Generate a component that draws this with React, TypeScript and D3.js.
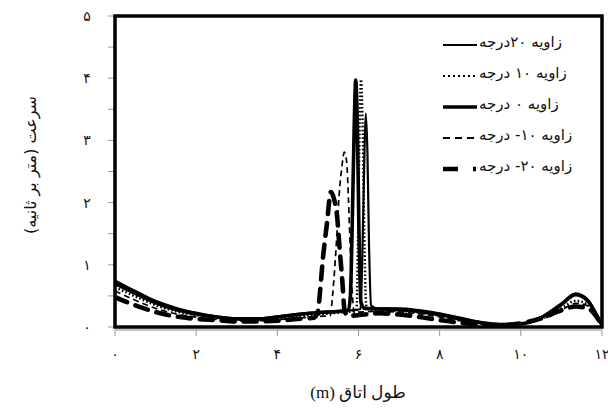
import React from "react";
import * as d3 from "d3";

// ---- data ----
const xTicks = [0, 2, 4, 6, 8, 10, 12];
const xTickLabels = ["۰", "۲", "۴", "۶", "۸", "۱۰", "۱۲"];
const yTicks = [0, 1, 2, 3, 4, 5];
const yTickLabels = ["۰", "۱", "۲", "۳", "۴", "۵"];

const seriesNames = ["زاویه ۲۰درجه", "زاویه ۱۰ درجه", "زاویه ۰ درجه", "زاویه ۱۰- درجه", "زاویه ۲۰- درجه"];

const deg20X = [0, 0.5, 1, 1.5, 2, 2.5, 3, 3.5, 4, 4.5, 5, 5.5, 5.9, 6.05, 6.1, 6.15, 6.18, 6.22, 6.26, 6.31, 6.4, 6.5, 7, 7.5, 8, 8.5, 9, 9.5, 10, 10.5, 11, 11.35, 11.65, 11.85, 12];
const deg20Y = [0.75, 0.58, 0.42, 0.31, 0.23, 0.17, 0.14, 0.14, 0.17, 0.21, 0.24, 0.26, 0.27, 0.29, 1.3, 2.9, 3.43, 2.8, 1.3, 0.35, 0.31, 0.3, 0.3, 0.27, 0.22, 0.15, 0.08, 0.04, 0.05, 0.16, 0.38, 0.54, 0.44, 0.22, 0.03];

const deg10X = [0, 0.5, 1, 1.5, 2, 2.5, 3, 3.5, 4, 4.5, 5, 5.5, 5.8, 5.95, 5.99, 6.03, 6.06, 6.1, 6.14, 6.19, 6.3, 6.5, 7, 7.5, 8, 8.5, 9, 9.5, 10, 10.5, 11, 11.35, 11.65, 11.85, 12];
const deg10Y = [0.64, 0.49, 0.35, 0.25, 0.19, 0.14, 0.12, 0.12, 0.14, 0.17, 0.2, 0.23, 0.25, 0.28, 1.5, 3.3, 3.98, 3.3, 1.6, 0.35, 0.28, 0.27, 0.26, 0.23, 0.18, 0.12, 0.06, 0.03, 0.05, 0.13, 0.3, 0.42, 0.36, 0.2, 0.03];

const deg0X = [0, 0.5, 1, 1.5, 2, 2.5, 3, 3.5, 4, 4.5, 5, 5.5, 5.75, 5.8, 5.85, 5.9, 5.93, 5.97, 6.01, 6.06, 6.15, 6.5, 7, 7.5, 8, 8.5, 9, 9.5, 10, 10.5, 11, 11.35, 11.65, 11.85, 12];
const deg0Y = [0.7, 0.54, 0.39, 0.28, 0.21, 0.16, 0.13, 0.13, 0.16, 0.2, 0.23, 0.25, 0.27, 0.5, 1.8, 3.4, 3.97, 3.3, 1.6, 0.4, 0.3, 0.29, 0.28, 0.25, 0.2, 0.13, 0.07, 0.04, 0.05, 0.15, 0.36, 0.52, 0.42, 0.21, 0.03];

const degM10X = [0, 0.5, 1, 1.5, 2, 2.5, 3, 3.5, 4, 4.5, 5, 5.3, 5.36, 5.45, 5.52, 5.59, 5.65, 5.71, 5.75, 5.8, 5.85, 5.9, 6.0, 6.5, 7, 7.5, 8, 8.5, 9, 9.5, 10, 10.5, 11, 11.35, 11.65, 11.85, 12];
const degM10Y = [0.58, 0.43, 0.3, 0.21, 0.16, 0.12, 0.1, 0.1, 0.12, 0.14, 0.17, 0.18, 0.5, 1.3, 2.1, 2.57, 2.81, 2.65, 2.1, 1.2, 0.5, 0.22, 0.24, 0.25, 0.24, 0.21, 0.16, 0.1, 0.06, 0.03, 0.05, 0.12, 0.27, 0.38, 0.34, 0.19, 0.03];

const degM20X = [0, 0.5, 1, 1.5, 2, 2.5, 3, 3.5, 4, 4.5, 4.9, 5.0, 5.05, 5.12, 5.22, 5.32, 5.4, 5.47, 5.53, 5.6, 5.66, 5.75, 6.5, 7, 7.5, 8, 8.5, 9, 9.5, 10, 10.5, 11, 11.35, 11.65, 11.85, 12];
const degM20Y = [0.48, 0.35, 0.24, 0.17, 0.13, 0.11, 0.09, 0.09, 0.1, 0.13, 0.15, 0.25, 0.55, 1.08, 1.65, 2.17, 2.05, 1.8, 1.3, 0.75, 0.25, 0.18, 0.22, 0.2, 0.16, 0.11, 0.07, 0.04, 0.03, 0.06, 0.14, 0.27, 0.33, 0.3, 0.18, 0.02];

const seriesX = [deg20X, deg10X, deg0X, degM10X, degM20X];
const seriesY = [deg20Y, deg10Y, deg0Y, degM10Y, degM20Y];

const styles = [
  { w: 2.2, dash: "none", cap: "butt" },
  { w: 2.4, dash: "1.6 2.2", cap: "butt" },
  { w: 3.6, dash: "none", cap: "butt" },
  { w: 1.7, dash: "6 4", cap: "butt" },
  { w: 4.6, dash: "13 9", cap: "round" },
];
const legendStyles = [
  { w: 2.2, dash: "none" },
  { w: 2.2, dash: "2 3" },
  { w: 3.6, dash: "none" },
  { w: 1.8, dash: "7 5" },
  { w: 4.6, dash: "15 15 3 20" },
];

const W = 608, H = 408;
const L = 115, R = 602, T = 16, B = 327;
const AR_FONT = "'Liberation Serif', 'DejaVu Sans', serif";
const FA = "'DejaVu Sans', sans-serif";

export default function App() {
  const x = d3.scaleLinear().domain([0, 12]).range([L, R]);
  const y = d3.scaleLinear().domain([0, 5]).range([B, T]);
  const line = d3
    .line<[number, number]>()
    .x((d) => x(d[0]))
    .y((d) => y(d[1]))
    .curve(d3.curveMonotoneX);

  const minorY = d3.range(0, 5.01, 0.5);
  const legendY = [45, 76, 107, 138, 169];

  return (
    <svg width={W} height={H} style={{ position: "absolute", left: 0, top: 0, background: "#fff" }}>
      <rect x={0} y={0} width={W} height={H} fill="#fff" />
      <defs>
        <clipPath id="plotclip">
          <rect x={L} y={T} width={R - L} height={B - T} />
        </clipPath>
      </defs>

      {/* y ticks */}
      {minorY.map((v) => (
        <line key={"yt" + v} x1={108} x2={L} y1={y(v)} y2={y(v)} stroke="#999" strokeWidth={1} />
      ))}
      {yTicks.map((v, i) => (
        <text key={"yl" + v} x={87} y={y(v)} fontFamily={FA} fontSize={14} textAnchor="middle" dominantBaseline="central" fill="#111">
          {yTickLabels[i]}
        </text>
      ))}

      {/* x axis line & ticks */}
      <line x1={L} x2={R} y1={330} y2={330} stroke="#888" strokeWidth={1.2} />
      {xTicks.map((v, i) => (
        <g key={"xt" + v}>
          <line x1={x(v)} x2={x(v)} y1={330} y2={336} stroke="#999" strokeWidth={1} />
          <text x={x(v)} y={354} fontFamily={FA} fontSize={14} textAnchor="middle" dominantBaseline="central" fill="#111">
            {xTickLabels[i]}
          </text>
        </g>
      ))}

      {/* series */}
      <g clipPath="url(#plotclip)">
        {seriesX.map((xs, si) => {
          const pts = xs.map((xv, k) => [xv, seriesY[si][k]] as [number, number]);
          const st = styles[si];
          return (
            <path
              key={"s" + si}
              d={line(pts) || ""}
              fill="none"
              stroke="#000"
              strokeWidth={st.w}
              strokeDasharray={st.dash}
              strokeLinecap={st.cap as any}
              strokeLinejoin="round"
            />
          );
        })}
      </g>

      {/* frame */}
      <rect x={L} y={T} width={R - L} height={B - T} fill="none" stroke="#000" strokeWidth={3.5} />

      {/* legend */}
      {seriesNames.map((name, i) => (
        <g key={"lg" + i}>
          <line
            x1={443}
            x2={477}
            y1={legendY[i]}
            y2={legendY[i]}
            stroke="#000"
            strokeWidth={legendStyles[i].w}
            strokeDasharray={legendStyles[i].dash}
          />
          <text x={479} y={legendY[i] - 3} fontFamily={FA} fontSize={15} textAnchor="start" dominantBaseline="central" fill="#111">
            {name}
          </text>
        </g>
      ))}

      {/* axis titles */}
      <text x={358} y={392} fontFamily={AR_FONT} fontSize={17} textAnchor="middle" dominantBaseline="central" fill="#111">
        {"\u202Bطول اتاق (m)\u202C"}
      </text>
      <text
        transform={`translate(30,${165}) rotate(-90)`}
        fontFamily={FA}
        fontSize={16}
        textAnchor="middle"
        dominantBaseline="central"
        fill="#111"
      >
        {"\u202Bسرعت (متر بر ثانیه)\u202C"}
      </text>
    </svg>
  );
}
